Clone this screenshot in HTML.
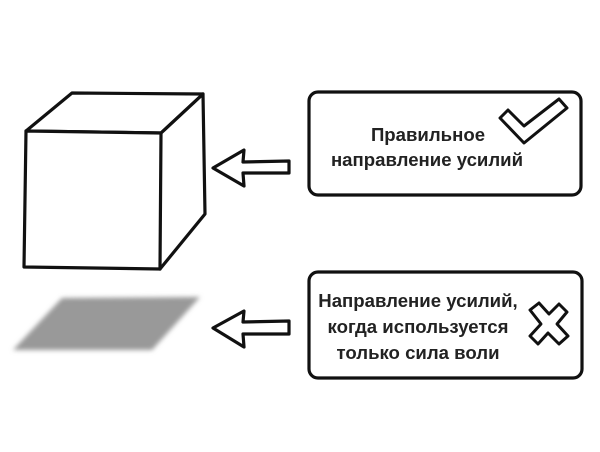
<!DOCTYPE html>
<html><head><meta charset="utf-8"><style>
html,body{margin:0;padding:0;background:#fff;width:600px;height:452px;overflow:hidden}
svg{display:block}
text{font-family:"Liberation Sans",sans-serif;font-weight:bold;font-size:18.6px;fill:#222}
</style></head><body>
<svg width="600" height="452" viewBox="0 0 600 452">
<defs><filter id="b" x="-20%" y="-30%" width="140%" height="160%"><feGaussianBlur stdDeviation="2.5"/></filter></defs>
<g fill="none" stroke="#111" stroke-width="3.2" stroke-linejoin="round" stroke-linecap="round">
<path d="M26 131 L72 93 L203 94 L161 133 Z" fill="#fff"/>
<path d="M26 131 L161 133 L160 269 L24 267 Z" fill="#fff"/>
<path d="M161 133 L203 94 L205 214 L160 269"/>
<path d="M213 168 L244 150 L243 162 L289 161 L289 173 L243 173 L244 186 Z"/>
<path d="M213 328 L244 311 L243 322 L289 321 L289 334 L243 334 L244 347 Z"/>
<rect x="309" y="92" width="272" height="103" rx="9"/>
<rect x="309" y="272" width="273" height="106" rx="9"/>
<path d="M500 118 L508 110 L524 126 L559 99 L567 108 L524 143 Z" stroke-width="3"/>
<path d="M530 310 L539 303 L549 314 L559 304 L567 312 L557 324 L568 336 L559 344 L548 333 L538 344 L530 336 L541 324 Z" stroke-width="3"/>
</g>
<path d="M62 298 L200 297 L152 350 L13 350 Z" fill="#999" filter="url(#b)"/>
<text x="428" y="141" text-anchor="middle">Правильное</text>
<text x="427" y="166" text-anchor="middle">направление усилий</text>
<text x="418" y="307" text-anchor="middle">Направление усилий,</text>
<text x="418" y="333" text-anchor="middle">когда используется</text>
<text x="418" y="359" text-anchor="middle">только сила воли</text>
</svg>
</body></html>
